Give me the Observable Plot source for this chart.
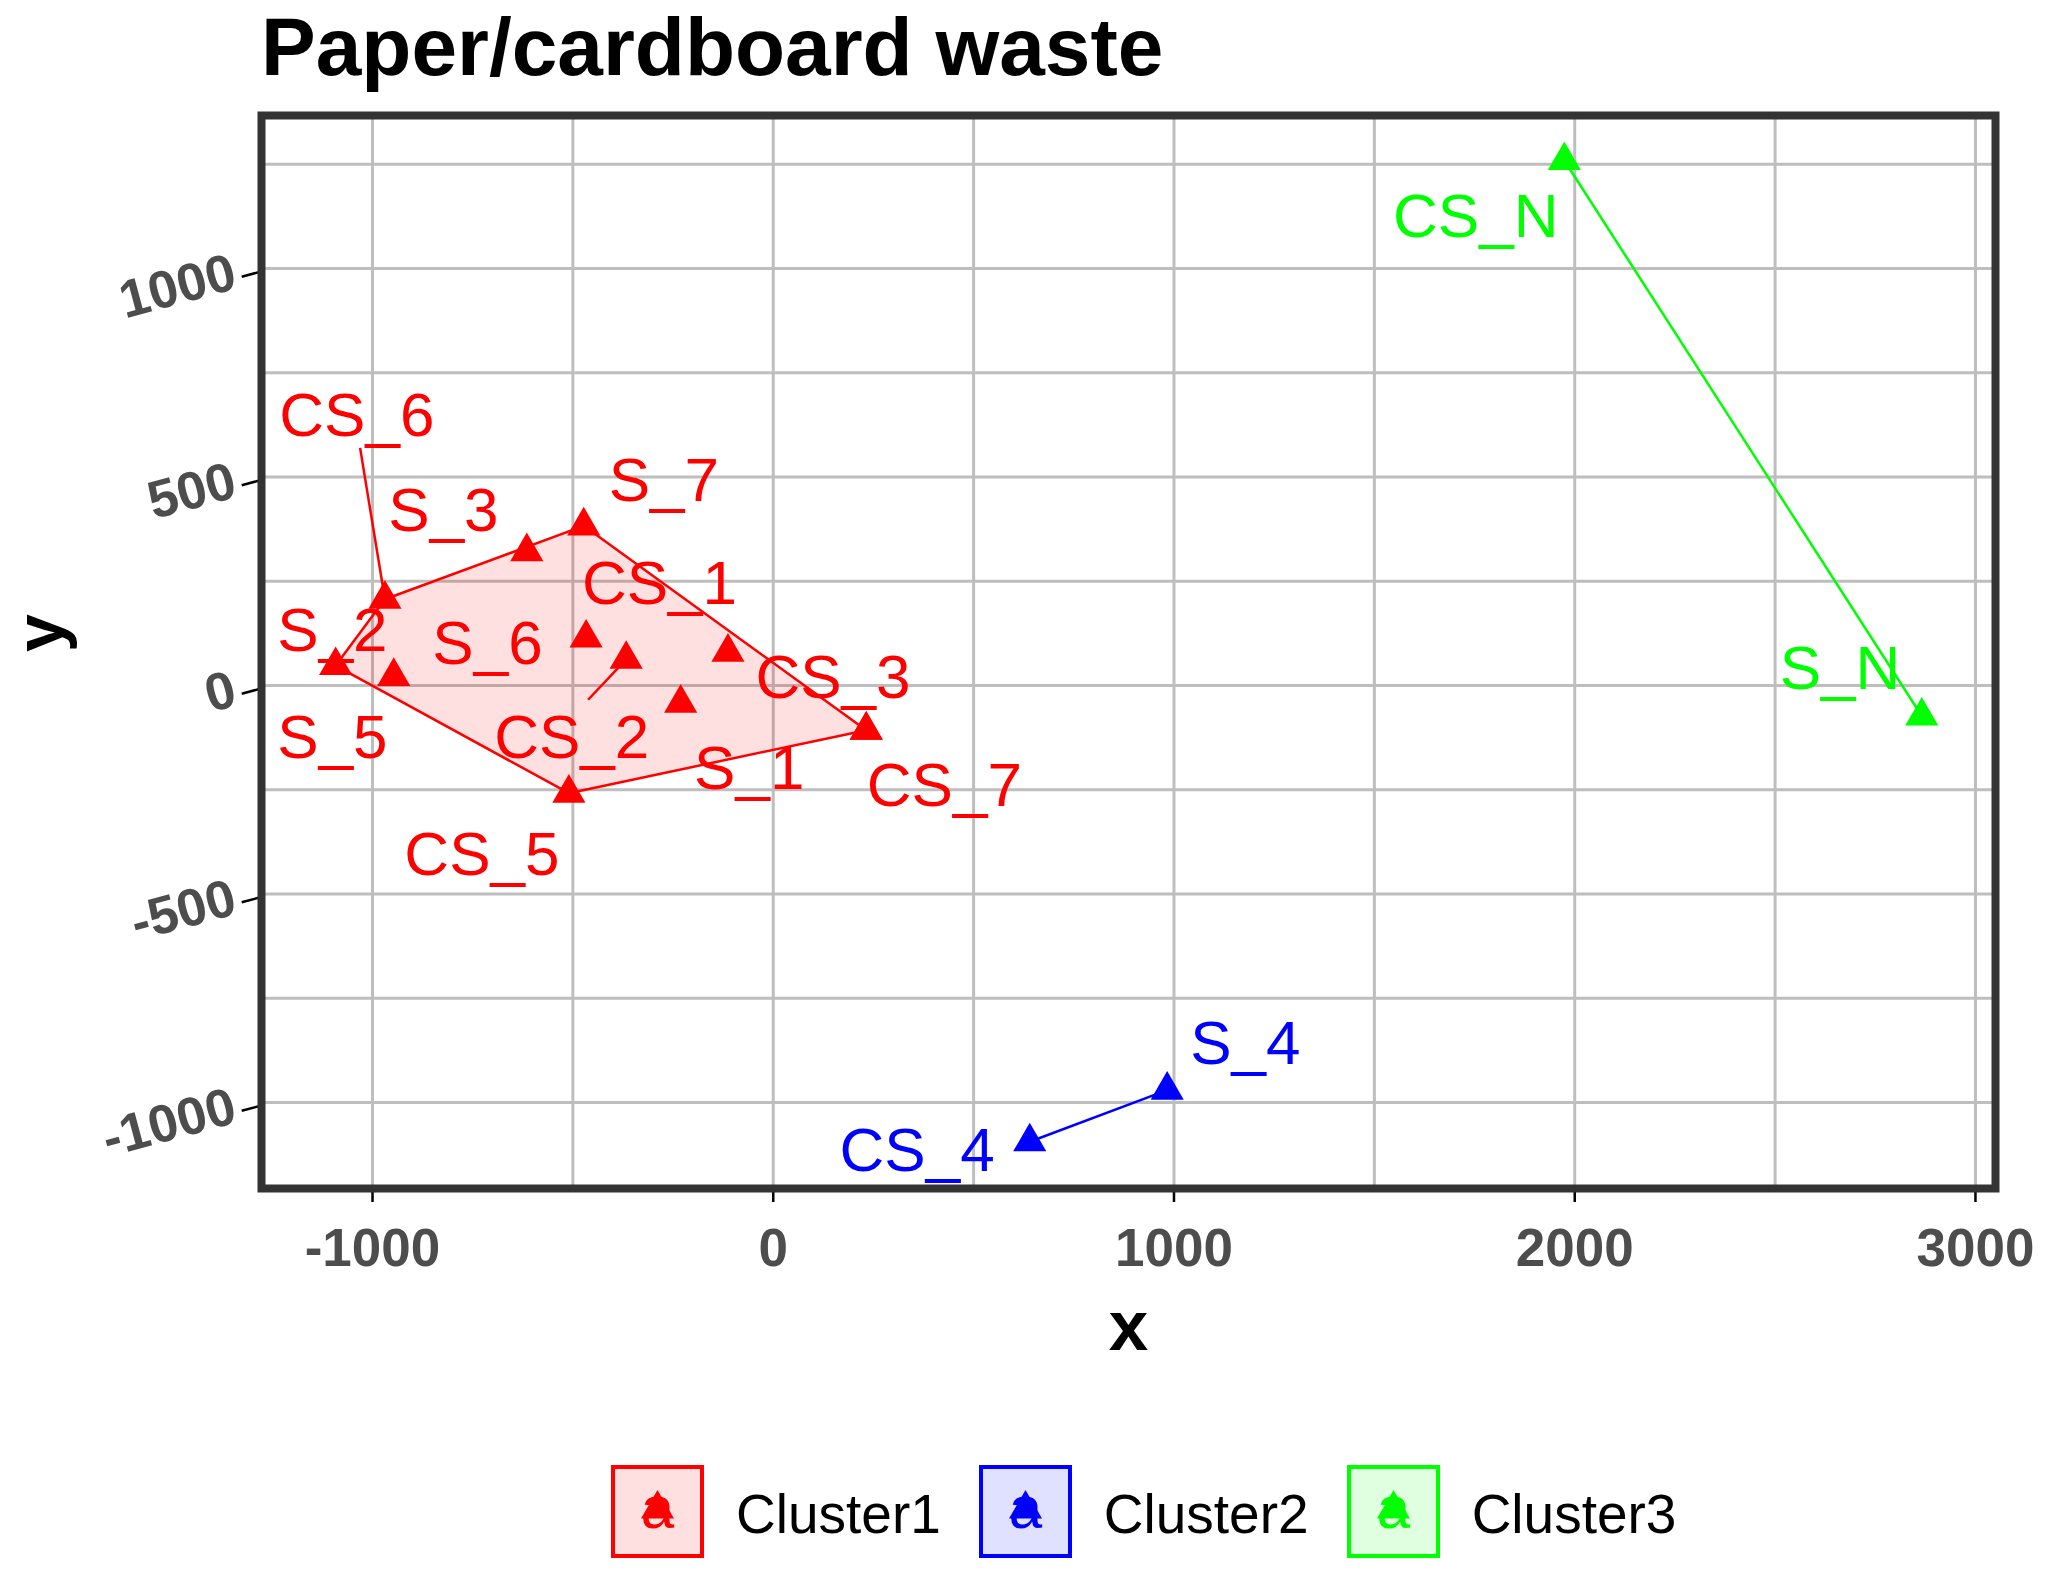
<!DOCTYPE html>
<html><head><meta charset="utf-8">
<script src="https://cdn.jsdelivr.net/npm/d3@7"></script>
<script src="https://cdn.jsdelivr.net/npm/@observablehq/plot@0.6"></script>
<style>
html,body{margin:0;padding:0;background:#fff;}
#wrap{position:relative;width:2048px;height:1571px;overflow:hidden;font-family:"Liberation Sans",Arial,Helvetica,sans-serif;}
#title{position:absolute;left:261px;top:0;font-size:82px;font-weight:bold;line-height:normal;color:#000;white-space:nowrap;}
#chart{position:absolute;left:0;top:100px;}
#legend{position:absolute;left:611px;top:1461px;display:flex;align-items:center;}
.item{display:flex;align-items:center;margin-right:38px;}
.item svg{display:block;margin-right:32px;}
.item span{font-size:55px;color:#000;line-height:93px;padding-top:7px;}
</style></head>
<body><div id="wrap"><div id="title">Paper/cardboard waste</div><div id="chart"></div><div id="legend"></div></div>
<script>
// ---- data ----
const names    = ["CS_6","S_3","S_7","S_2","S_5","S_6","CS_2","S_1","CS_1","CS_3","CS_7","CS_5","CS_N","S_N","S_4","CS_4"];
const xs       = [-969,-615,-473,-1092,-947,-467,-367,-231,-113,232,232,-510,1974,2866,983,640];
const ys       = [207,321,383,48,22,114,63,-42,80,-107,-107,-258,1259,-73,-970,-1094];
const clusters = ["Cluster1","Cluster1","Cluster1","Cluster1","Cluster1","Cluster1","Cluster1","Cluster1","Cluster1","Cluster1","Cluster1","Cluster1","Cluster3","Cluster3","Cluster2","Cluster2"];
const clusterNames  = ["Cluster1","Cluster2","Cluster3"];
const clusterColors = ["#FF0000","#0000FF","#00FF00"];
const xTicks = [-1000,0,1000,2000,3000];
const yTicks = [-1000,-500,0,500,1000];
const xGrid  = [-1000,-500,0,500,1000,1500,2000,2500,3000];
const yGrid  = [-1000,-750,-500,-250,0,250,500,750,1000,1250];

// repelled label placement (offset from point, data units) and repel segments
const labelDx = [-70,-208,200,-8,-153,-246,-136,171,-171,-83,195,-217,-221,-204,195,-281];
const labelDy = [445,103,113,88,-144,-11,-185,-154,169,129,-129,-144,-132,116,116,-18];
const segment = {"CS_6": [-62, 363], "CS_2": [-95, -97]};

const points = names.map((name, i) => ({name, i, x: xs[i], y: ys[i], cluster: clusters[i]}));
const segPts = points.filter(d => segment[d.name]);

const font = '"Liberation Sans", Arial, Helvetica, sans-serif';
const chart = Plot.plot({
  width: 2048, height: 1290,
  marginLeft: 261, marginRight: 53, marginTop: 15, marginBottom: 202,
  style: {fontFamily: font, background: "white", overflow: "visible"},
  x: {domain: [-1277, 3050]},
  y: {domain: [-1206, 1367]},
  color: {domain: clusterNames, range: clusterColors},
  marks: [
    Plot.gridX(xGrid, {stroke: "#BEBEBE", strokeOpacity: 1, strokeWidth: 3}),
    Plot.gridY(yGrid, {stroke: "#BEBEBE", strokeOpacity: 1, strokeWidth: 3}),
    Plot.hull(points, {x: "x", y: "y", z: "cluster", fill: "cluster", stroke: "cluster", fillOpacity: 0.12, strokeWidth: 2.5}),
    Plot.link(segPts, {x1: d => d.x + segment[d.name][0], y1: d => d.y + segment[d.name][1], x2: "x", y2: "y", stroke: "cluster", strokeWidth: 2.5}),
    Plot.dot(points, {x: "x", y: "y", symbol: "triangle", fill: "cluster", r: 12.3}),
    Plot.text(points, {x: d => d.x + labelDx[d.i], y: d => d.y + labelDy[d.i], text: "name", fill: "cluster",
      fontSize: 62, textAnchor: "middle", lineAnchor: "middle", dy: 2}),
    Plot.axisX(xTicks, {tickSize: 14, tickPadding: 26, tickFormat: d => String(d), fontSize: 53, fontWeight: "bold",
      fill: "#4D4D4D", stroke: "#000", strokeWidth: 2.5, label: null}),
    Plot.axisY(yTicks, {tickSize: 20, tickPadding: 7, tickFormat: d => String(d), fontSize: 53, fontWeight: "bold",
      fill: "#4D4D4D", stroke: "#000", strokeWidth: 2.5, rotate: -15, textAnchor: "end", dy: 3, label: null}),
    Plot.frame({stroke: "#333333", strokeWidth: 8}),
    Plot.text(["x"], {frameAnchor: "bottom", text: d => d, dy: 139, fontSize: 71, fontWeight: "bold", fill: "#000", lineAnchor: "middle"}),
    Plot.text(["y"], {frameAnchor: "left", text: d => d, dx: -220, rotate: -90, fontSize: 68, fontWeight: "bold", fill: "#000", lineAnchor: "middle"})
  ]
});
document.getElementById("chart").appendChild(chart);

// legend
const legend = document.getElementById("legend");
clusterNames.forEach((name, k) => {
  const c = clusterColors[k];
  const item = document.createElement("div");
  item.className = "item";
  const s = 93, cx = 46.5;
  const h = 28.6, w = 33;
  item.innerHTML =
    `<svg width="${s}" height="${s}" viewBox="0 0 ${s} ${s}">` +
    `<rect x="2" y="2" width="${s-4}" height="${s-4}" fill="${c}" fill-opacity="0.12" stroke="${c}" stroke-width="4"/>` +
    `<text x="${cx}" y="${63}" text-anchor="middle" font-size="60" font-family='${font}' fill="${c}">a</text>` +
    `<path d="M${cx},${44 - 2*h/3} L${cx + w/2},${44 + h/3} L${cx - w/2},${44 + h/3} Z" fill="${c}"/>` +
    `</svg><span>${name}</span>`;
  legend.appendChild(item);
});
</script></body></html>
